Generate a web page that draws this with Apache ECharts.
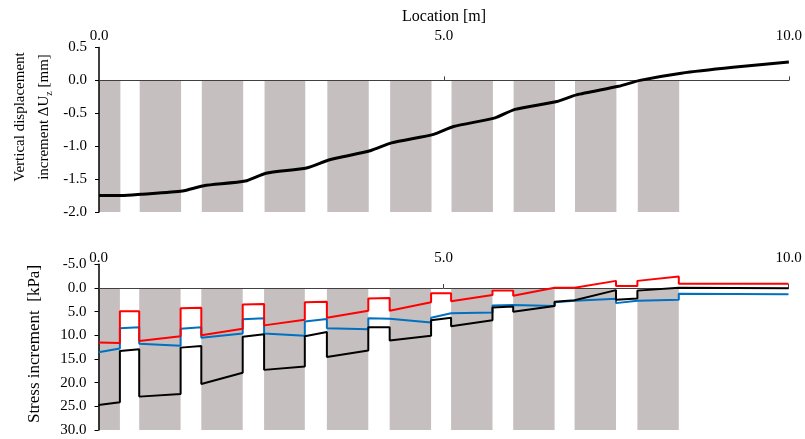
<!DOCTYPE html>
<html><head><meta charset="utf-8">
<script src="https://cdn.jsdelivr.net/npm/echarts@6/dist/echarts.min.js"></script>
<style>html,body{margin:0;padding:0;background:#fff}#c{width:805px;height:439px}</style>
</head><body><div id="c"></div>
<script>
// ---- data ----
const locationRange = [0, 10];
const locationInterval = 5;
const dispRange = [-2.0, 0.5];
const dispInterval = 0.5;
const stressRange = [-5, 30];
const stressInterval = 5;

// pile (grey column) extents along the location axis [start, end] in m
const piles = [[0,0.31],[0.59,1.19],[1.49,2.09],[2.40,2.99],[3.31,3.91],[4.22,4.82],[5.11,5.71],[6.01,6.61],[6.90,7.50],[7.81,8.41]];
const pileDepthTop = [0, -2.0];
const pileDepthBottom = [0, 30];

// vertical displacement increment [mm]
const dispIncrement = [[0,-1.75],[0.33,-1.75],[0.61,-1.73],[1.21,-1.68],[1.52,-1.60],[2.12,-1.53],[2.42,-1.41],[3.01,-1.33],[3.33,-1.21],[3.93,-1.07],[4.24,-0.95],[4.85,-0.82],[5.14,-0.70],[5.74,-0.57],[6.03,-0.44],[6.64,-0.32],[6.92,-0.22],[7.53,-0.09],[7.84,0.0],[8.44,0.11],[9.19,0.20],[10,0.28]];

// stress increments [kPa]
const stressBlack = [[0,24.7],[0.31,24.15],[0.31,13.3],[0.59,12.95],[0.59,22.95],[1.19,22.4],[1.19,12.6],[1.49,12.25],[1.49,20.3],[2.09,17.9],[2.09,10.3],[2.40,9.8],[2.40,17.3],[2.99,16.6],[2.99,10.2],[3.31,9.3],[3.31,14.6],[3.91,13.2],[3.91,8.3],[4.22,8.3],[4.22,11.1],[4.82,10.1],[4.82,6.8],[5.11,6.3],[5.11,8.1],[5.71,6.8],[5.71,4.1],[6.01,3.9],[6.01,5.0],[6.61,3.8],[6.61,2.9],[6.90,2.6],[7.50,0.45],[7.50,2.5],[7.81,2.2],[7.81,0.56],[8.41,-0.05],[10,0.05]];
const stressRed = [[0,11.5],[0.31,11.6],[0.31,4.9],[0.59,4.9],[0.59,11.2],[1.19,10.2],[1.19,4.3],[1.49,4.2],[1.49,10.0],[2.09,8.6],[2.09,3.5],[2.40,3.4],[2.40,7.9],[2.99,6.7],[2.99,3.0],[3.31,2.9],[3.31,6.3],[3.91,4.8],[3.91,2.2],[4.22,2.1],[4.22,4.8],[4.82,3.0],[4.82,1.1],[5.11,1.1],[5.11,2.8],[5.71,1.5],[5.71,0.55],[6.01,0.55],[6.01,1.65],[6.61,-0.05],[6.90,-0.05],[7.50,-1.5],[7.50,-0.4],[7.81,-0.4],[7.81,-1.5],[8.41,-2.4],[8.41,-0.9],[10,-0.9]];
const stressBlue = [[0,13.6],[0.31,12.8],[0.31,8.5],[0.59,8.3],[0.59,11.8],[1.19,12.2],[1.19,8.6],[1.49,8.3],[1.49,10.5],[2.09,9.6],[2.09,6.6],[2.40,6.4],[2.40,9.6],[2.99,10.1],[2.99,7.1],[3.31,6.55],[3.31,8.5],[3.91,8.7],[3.91,6.4],[4.22,6.5],[4.82,7.3],[4.82,6.3],[5.11,5.35],[5.71,5.2],[5.71,3.7],[6.01,3.6],[6.01,3.95],[6.61,3.8],[6.61,3.0],[6.90,2.7],[7.50,2.3],[7.50,3.2],[7.81,2.7],[7.81,2.4],[8.41,2.5],[8.41,1.2],[10,1.3]];

// ---- chart ----
const FONT = "'Liberation Serif','Times New Roman',serif";
const fmt = v => v.toFixed(1);
const chart = echarts.init(document.getElementById('c'));

function pileRender(depth) {
  return function (params, api) {
    const a = api.coord([api.value(0), depth[0]]);
    const b = api.coord([api.value(1), depth[1]]);
    return {
      type: 'rect',
      shape: { x: a[0], y: Math.min(a[1], b[1]), width: b[0] - a[0], height: Math.abs(b[1] - a[1]) },
      style: { fill: '#c5bfbf' }
    };
  };
}

function labelAxis(gi, margin) {
  return {
    gridIndex: gi, type: 'value', position: 'top', min: locationRange[0], max: locationRange[1], interval: locationInterval,
    axisLine: { show: false, onZero: false }, axisTick: { show: false }, splitLine: { show: false },
    axisLabel: { fontFamily: FONT, fontSize: 15, color: '#000', margin: margin, formatter: fmt }
  };
}
function zeroAxis(gi, yIdx) {
  return {
    gridIndex: gi, type: 'value', position: 'bottom', min: locationRange[0], max: locationRange[1], interval: locationInterval, z: 1,
    axisLine: { show: true, onZero: true, onZeroAxisIndex: yIdx, lineStyle: { color: '#404040', width: 1 } },
    axisTick: { show: true, inside: true, length: 4, lineStyle: { color: '#404040', width: 1 } },
    axisLabel: { show: false }, splitLine: { show: false }
  };
}
function yAx(gi, range, interval, inverse) {
  return {
    gridIndex: gi, type: 'value', min: range[0], max: range[1], interval: interval, inverse: inverse, z: 1,
    axisLine: { show: true, onZero: false, lineStyle: { color: '#000', width: 1.5 } },
    axisTick: { show: true, length: 4, lineStyle: { color: '#000', width: 1 } },
    splitLine: { show: false },
    axisLabel: { fontFamily: FONT, fontSize: 15, color: '#000', margin: 12, formatter: fmt }
  };
}

const option = {
  animation: false,
  backgroundColor: '#fff',
  grid: [
    { left: 99, right: 16, top: 47.5, height: 164.5 },
    { left: 98.5, right: 16.5, top: 264.3, height: 165.7 }
  ],
  xAxis: [labelAxis(0, 4), zeroAxis(0, 0), labelAxis(1, -1.5), zeroAxis(1, 1)],
  yAxis: [yAx(0, dispRange, dispInterval, false), yAx(1, stressRange, stressInterval, true)],
  series: [
    { type: 'custom', xAxisIndex: 1, yAxisIndex: 0, z: 0, data: piles, renderItem: pileRender(pileDepthTop), encode: { x: [0, 1] }, silent: true },
    { type: 'line', xAxisIndex: 1, yAxisIndex: 0, z: 3, data: dispIncrement, smooth: 0.2, showSymbol: false, symbol: 'none', lineStyle: { color: '#000', width: 3 } },
    { type: 'custom', xAxisIndex: 3, yAxisIndex: 1, z: 0, data: piles, renderItem: pileRender(pileDepthBottom), encode: { x: [0, 1] }, silent: true },
    { type: 'line', xAxisIndex: 3, yAxisIndex: 1, z: 3, data: stressBlue, showSymbol: false, symbol: 'none', lineStyle: { color: '#0070c0', width: 2 } },
    { type: 'line', xAxisIndex: 3, yAxisIndex: 1, z: 3, data: stressBlack, showSymbol: false, symbol: 'none', lineStyle: { color: '#000', width: 2 } },
    { type: 'line', xAxisIndex: 3, yAxisIndex: 1, z: 3, data: stressRed, showSymbol: false, symbol: 'none', lineStyle: { color: '#ff0000', width: 2 } }
  ],
  graphic: [
    { type: 'text', x: 444, y: 17, style: { text: 'Location [m]', fontSize: 16, fontFamily: FONT, fill: '#000', align: 'center', verticalAlign: 'middle' } },
    { type: 'text', x: 32, y: 117, rotation: Math.PI / 2,
      style: {
        text: '{n|Vertical displacement}\n{n|increment ΔU}{s|z}{n| [mm]}',
        rich: {
          n: { fontSize: 15, fontFamily: FONT, lineHeight: 24, fill: '#000' },
          s: { fontSize: 10, fontFamily: FONT, padding: [10, 0, 0, 0], fill: '#000' }
        },
        align: 'center', verticalAlign: 'middle'
      } },
    { type: 'text', x: 35, y: 344, rotation: Math.PI / 2,
      style: { text: 'Stress increment  [kPa]', fontSize: 17, fontFamily: FONT, fill: '#000', align: 'center', verticalAlign: 'middle' } }
  ]
};
chart.setOption(option);
</script>
</body></html>
